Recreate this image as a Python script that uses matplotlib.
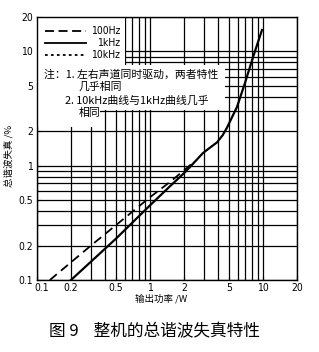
import matplotlib
matplotlib.use("Agg")
import matplotlib.pyplot as plt
from matplotlib.lines import Line2D
from matplotlib.patches import Rectangle
import matplotlib.transforms as mtransforms

plt.rcParams['font.family'] = ['Noto Sans CJK SC', 'DejaVu Sans']

# data
p_100 = [0.13, 0.3, 0.6, 1.0, 1.5, 2.0, 2.5]
thd_100 = [0.1, 0.2, 0.35, 0.53, 0.72, 0.91, 1.1]
p_1k = [0.2, 0.5, 1.0, 1.5, 2.0, 2.26, 2.94, 3.4, 3.92, 4.4, 4.8, 5.89, 6.93, 8.17, 9.8]
thd_1k = [0.1, 0.23, 0.45, 0.66, 0.86, 0.975, 1.29, 1.44, 1.6, 1.85, 2.15, 3.27, 5.3, 8.93, 15.4]

xticks = [0.1, 0.2, 0.5, 1, 2, 5, 10, 20]
xtick_labels = ['0.1', '0.2', '0.5', '1', '2', '5', '10', '20']
yticks = [0.1, 0.2, 0.5, 1, 2, 5, 10, 20]
ytick_labels = ['0.1', '0.2', '0.5', '1', '2', '5', '10', '20']
grid_vals = [0.1, 0.2, 0.3, 0.4, 0.5, 0.6, 0.7, 0.8, 0.9, 1, 2, 3, 4, 5, 6, 7, 8, 9, 10, 20]
legend_labels = ['100Hz', '1kHz', '10kHz']

NUM_FONT = ['DejaVu Sans']

W, H = 319, 352
fig = plt.figure(figsize=(W / 100, H / 100), dpi=100)
L, R, T, B = 37, 297, 17, 280
ax = fig.add_axes([L / W, 1 - B / H, (R - L) / W, (B - T) / H])
ax.set_xscale('log')
ax.set_yscale('log')
ax.set_xlim(0.1, 20)
ax.set_ylim(0.1, 20)

for v in grid_vals:
    ax.axvline(v, color='black', lw=0.9, zorder=1)
    ax.axhline(v, color='black', lw=0.9, zorder=1)

def px_rect(x0, y0, x1, y1):
    ax_x0 = (x0 - L) / (R - L)
    ax_x1 = (x1 - L) / (R - L)
    ax_y0 = (B - y1) / (B - T)
    ax_y1 = (B - y0) / (B - T)
    ax.add_patch(Rectangle((ax_x0, ax_y0), ax_x1 - ax_x0, ax_y1 - ax_y0,
                           transform=ax.transAxes, facecolor='white',
                           edgecolor='none', zorder=2))

px_rect(37.5, 17.5, 125, 110)
px_rect(37.5, 110, 100, 127)
px_rect(125, 65, 225, 110)

ax.plot(p_100, thd_100, color='black', lw=1.3, dashes=(5, 3), zorder=3)
ax.plot(p_1k, thd_1k, color='black', lw=1.6, zorder=3)

ax.set_xticks(xticks)
ax.set_xticklabels(xtick_labels, fontfamily=NUM_FONT, fontstretch='condensed')
ax.set_yticks(yticks)
ax.set_yticklabels(ytick_labels, fontfamily=NUM_FONT, fontstretch='condensed')
ax.minorticks_off()
ax.tick_params(direction='in', length=3, width=0.8, labelsize=7.5, pad=2,
               zorder=4)
first = ax.get_xticklabels()[0]
first.set_transform(first.get_transform() +
                    mtransforms.ScaledTranslation(5 / 100, 0, fig.dpi_scale_trans))
for lab in ax.get_yticklabels():
    lab.set_transform(lab.get_transform() +
                      mtransforms.ScaledTranslation(-1 / 100, 0, fig.dpi_scale_trans))
for s in ax.spines.values():
    s.set_linewidth(1.0)
    s.set_zorder(5)

ax.set_xlabel('输出功率 /W', fontsize=6.8)
ax.set_ylabel('总谐波失真 /%', fontsize=6.8)
ax.xaxis.set_label_coords(0.477, -0.055)
ax.yaxis.set_label_coords(-0.092, 0.47)

# legend drawn manually (handles left, labels right-aligned)
leg_y = [31, 43, 55]
leg_dash = [(5, 2.5), None, (1.5, 1.8)]
for yy, lab, dsh in zip(leg_y, legend_labels, leg_dash):
    ln = Line2D([45 / W, 86 / W], [1 - yy / H, 1 - yy / H], color='black',
                lw=1.3, transform=fig.transFigure, zorder=7)
    if dsh is not None:
        ln.set_dashes(dsh)
    fig.add_artist(ln)
    fig.text(120 / W, 1 - yy / H, lab, fontsize=7.5, ha='right', va='center',
             fontfamily=NUM_FONT, fontstretch='condensed', zorder=7)

note_kw = dict(fontsize=7.8, transform=fig.transFigure, va='center',
               ha='left', zorder=7)
fig.text(44 / W, 1 - 75 / H, '注：1. 左右声道同时驱动，两者特性', **note_kw)
fig.text(79 / W, 1 - 87 / H, '几乎相同', **note_kw)
fig.text(65 / W, 1 - 101 / H, '2. 10kHz曲线与1kHz曲线几乎', **note_kw)
fig.text(79 / W, 1 - 113 / H, '相同', **note_kw)

fig.text(154 / W, 1 - 332 / H, '图 9    整机的总谐波失真特性', fontsize=12,
         ha='center', va='center')

fig.savefig('out.png', dpi=100, facecolor='white')
